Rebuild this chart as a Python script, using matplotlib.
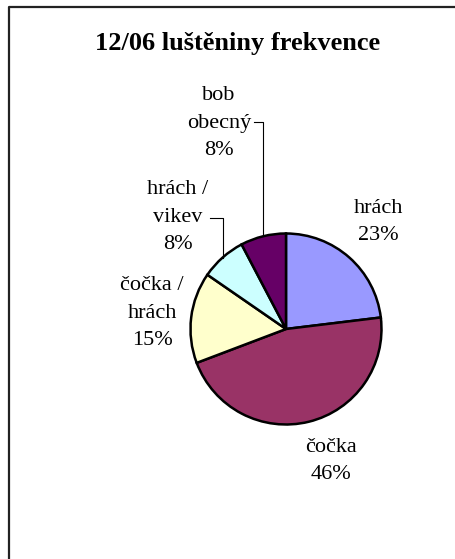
import numpy as np
import matplotlib
matplotlib.use("Agg")
import matplotlib.pyplot as plt

# frequency counts of legumes
labels = ["hrách", "čočka", "čočka /\nhrách", "hrách /\nvikev", "bob\nobecný"]
counts = [3, 6, 2, 1, 1]
colors = ["#9999FF", "#993366", "#FFFFCC", "#CCFFFF", "#660066"]
title = "12/06 luštěniny frekvence"

W, H = 456, 559
plt.rcParams["font.family"] = ["Liberation Serif", "DejaVu Serif"]

fig = plt.figure(figsize=(W / 100, H / 100), dpi=100)
ax = fig.add_axes([0, 0, 1, 1])

cx, cy, r = 286, H - 329, 95.5
wedges, _ = ax.pie(counts, colors=colors, startangle=90, counterclock=False,
                   center=(cx, cy), radius=r, frame=True,
                   wedgeprops=dict(edgecolor="black", linewidth=1.8))
ax.set_xlim(0, W)
ax.set_ylim(0, H)
ax.set_aspect("equal")
ax.axis("off")

# label centres (pixel coords from top-left), one per slice
label_pos = [(378, 222), (331, 461), (152, 313), (178, 217), (219, 123)]
total = sum(counts)
for i, (w, lab) in enumerate(zip(wedges, labels)):
    pct = round(counts[i] / total * 100)
    tx, ty = label_pos[i]
    ax.text(tx, H - ty, f"{lab}\n{pct}%", ha="center", va="center",
            fontsize=16, linespacing=1.6)

# leader lines for the two small slices
for i, (x0, y0) in [(4, (254, 122)), (3, (210, 218))]:
    w = wedges[i]
    mid = np.deg2rad((w.theta1 + w.theta2) / 2)
    ex = cx + r * np.cos(mid)
    ey = cy + r * np.sin(mid)
    ax.plot([x0, ex, ex], [H - y0, H - y0, ey], color="black", lw=0.8)

ax.text(W / 2 + 10, H - 43, title, ha="center", va="center",
        fontsize=19, fontweight="bold")

# chart area border (left and top edges)
ax.plot([9.5, 9.5, W + 5], [-5, H - 7, H - 7], color="#222222", lw=1.6,
        clip_on=False)

fig.savefig("out.png", dpi=100)
